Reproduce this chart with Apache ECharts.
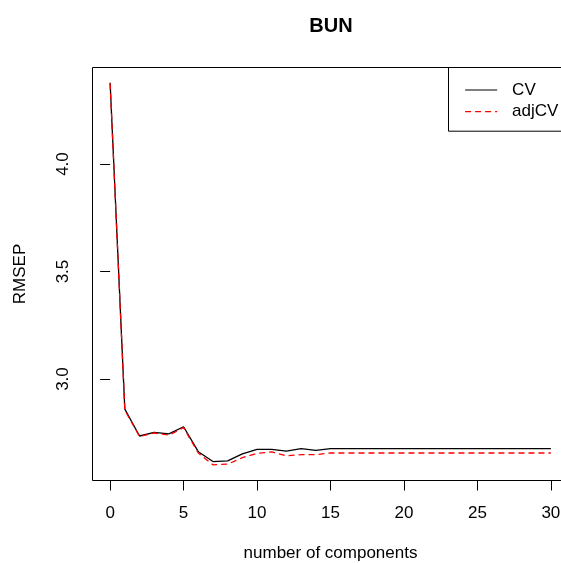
<!DOCTYPE html>
<html>
<head>
<meta charset="utf-8">
<script src="https://cdn.jsdelivr.net/npm/echarts@6/dist/echarts.min.js"></script>
<style>
  html, body { margin: 0; padding: 0; background: #fff; }
  #chart { width: 561px; height: 563px; }
</style>
</head>
<body>
<div id="chart"></div>
<script>
// Data
var components = [0,1,2,3,4,5,6,7,8,9,10,11,12,13,14,15,16,17,18,19,20,21,22,23,24,25,26,27,28,29,30];
var cvValues = [4.378,2.860,2.735,2.752,2.745,2.778,2.662,2.616,2.619,2.652,2.673,2.673,2.665,2.676,2.668,
                2.676,2.676,2.676,2.676,2.676,2.676,2.676,2.676,2.676,2.676,2.676,2.676,2.676,2.676,2.676,2.676];
var adjcvValues = [4.375,2.855,2.733,2.749,2.739,2.774,2.656,2.601,2.604,2.634,2.654,2.661,2.643,2.648,2.648,
                   2.656,2.656,2.656,2.656,2.656,2.656,2.656,2.656,2.656,2.656,2.656,2.656,2.656,2.656,2.656,2.656];
var xTicks = [0,5,10,15,20,25,30];
var yTicks = [3.0,3.5,4.0];
var seriesNames = ['CV','adjCV'];

function pairs(xs, ys) { return xs.map(function (x, i) { return [x, ys[i]]; }); }

var font = 'Liberation Sans, Arial, sans-serif';
var chart = echarts.init(document.getElementById('chart'), null, {renderer: 'canvas'});
chart.setOption({
  animation: false,
  backgroundColor: '#ffffff',
  title: {
    text: 'BUN',
    left: 331,
    top: 16,
    textAlign: 'center',
    padding: 0,
    textStyle: { fontFamily: font, fontSize: 20, fontWeight: 'bold', color: '#000' }
  },
  legend: {
    data: seriesNames,
    orient: 'vertical',
    left: 448.5,
    top: 67.5,
    padding: [14, 60, 11, 16],
    itemWidth: 32,
    itemHeight: 14,
    itemGap: 4.7,
    borderColor: '#000',
    borderWidth: 1,
    borderRadius: 0,
    lineStyle: { width: 1.2 },
    itemStyle: { color: 'rgba(0,0,0,0)', borderWidth: 0, opacity: 0 },
    textStyle: { fontFamily: font, fontSize: 17, color: '#000', padding: [0, 0, 0, 10] }
  },
  grid: {
    show: true,
    left: 92.5,
    top: 67.5,
    width: 476,
    height: 413,
    outerBoundsMode: 'none',
    containLabel: false,
    borderColor: '#000',
    borderWidth: 1,
    backgroundColor: 'transparent'
  },
  xAxis: {
    type: 'value',
    min: -1.2,
    max: 31.2,
    name: 'number of components',
    nameLocation: 'middle',
    nameGap: 64,
    nameTextStyle: { fontFamily: font, fontSize: 17, color: '#000' },
    axisLine: { show: false },
    splitLine: { show: false },
    axisTick: { show: true, length: 10, customValues: xTicks, lineStyle: { color: '#000', width: 1 } },
    axisLabel: { customValues: xTicks, margin: 24, fontFamily: font, fontSize: 17, color: '#000' }
  },
  yAxis: {
    type: 'value',
    min: 2.528,
    max: 4.449,
    name: 'RMSEP',
    nameLocation: 'middle',
    nameGap: 64,
    nameRotate: 90,
    nameTextStyle: { fontFamily: font, fontSize: 17, color: '#000' },
    axisLine: { show: false },
    splitLine: { show: false },
    axisTick: { show: true, length: 10, customValues: yTicks, lineStyle: { color: '#000', width: 1 } },
    axisLabel: {
      customValues: yTicks, rotate: 90, margin: 21, fontFamily: font, fontSize: 17, color: '#000',
      formatter: function (v) { return v.toFixed(1); }
    }
  },
  series: [
    {
      name: seriesNames[0], type: 'line', data: pairs(components, cvValues),
      showSymbol: false, symbol: 'none',
      lineStyle: { color: '#000', width: 1.3, type: 'solid' },
      itemStyle: { color: '#000' }
    },
    {
      name: seriesNames[1], type: 'line', data: pairs(components, adjcvValues),
      showSymbol: false, symbol: 'none',
      lineStyle: { color: '#ff0000', width: 1.3, type: [6, 4] },
      itemStyle: { color: '#ff0000' }
    }
  ]
});
</script>
</body>
</html>
